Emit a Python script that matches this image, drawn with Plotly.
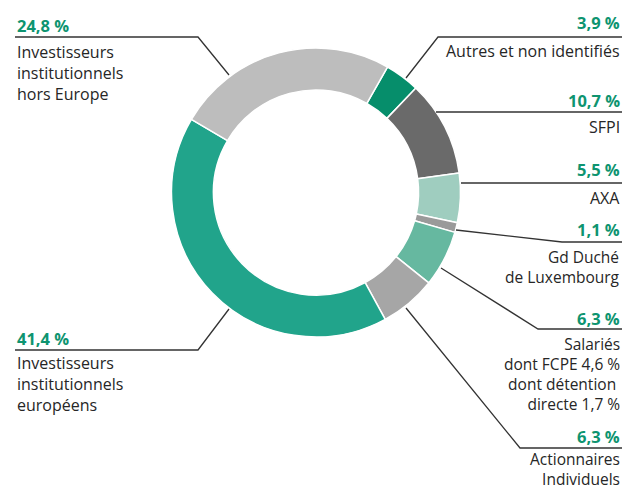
import plotly.graph_objects as go

# Data (clockwise order starting at the "Autres" slice)
categories = ["Autres et non identifiés", "SFPI", "AXA", "Gd Duché de Luxembourg",
              "Salariés", "Actionnaires Individuels",
              "Investisseurs institutionnels européens",
              "Investisseurs institutionnels hors Europe"]
values = [3.9, 10.7, 5.5, 1.1, 6.3, 6.3, 41.4, 24.8]
pct_labels = ["3,9 %", "10,7 %", "5,5 %", "1,1 %", "6,3 %", "6,3 %", "41,4 %", "24,8 %"]
label_lines = [
    ["Autres et non identifiés"],
    ["SFPI"],
    ["AXA"],
    ["Gd Duché", "de Luxembourg"],
    ["Salariés", "dont FCPE 4,6 %", "dont détention\u00a0", "directe 1,7 %"],
    ["Actionnaires", "Individuels"],
    ["Investisseurs", "institutionnels", "européens"],
    ["Investisseurs", "institutionnels", "hors Europe"],
]
colors = ["#068E6B", "#6A6A6A", "#9FCDBF", "#9A9A9A", "#66B8A0", "#A6A6A6", "#21A48B", "#BDBDBD"]

W, H = 625, 489
GREEN = "#0E9470"
TXT = "#262626"
LINE = "#333333"
FONT = "Open Sans"


def px(x):
    return x / W


def py(y):
    return 1 - y / H


cx, cy, R = 316, 192.5, 144.5

fig = go.Figure(go.Pie(
    labels=categories, values=values, sort=False, direction="clockwise",
    rotation=29.7, hole=0.71, textinfo="none", hoverinfo="label+value",
    marker=dict(colors=colors, line=dict(color="white", width=1.5)),
    domain=dict(x=[px(cx - R), px(cx + R)], y=[py(cy + R), py(cy - R)]),
    showlegend=False,
))

# label layout: (side, x anchor, pct center y, label block center y, font size, leader polyline)
layout_spec = [
    ("r", 622, 22, 51, 16, [(406, 78), (438, 37), (622, 37)]),
    ("r", 622, 100, 127, 16, [(436, 112), (622, 112)]),
    ("r", 622, 170, 198, 16, [(461, 183), (622, 183)]),
    ("r", 622, 229, 266.5, 15.5, [(456, 230), (562, 242), (622, 242)]),
    ("r", 622, 318, 373.5, 15.5, [(441, 268), (538, 329), (622, 329)]),
    ("r", 622, 436, 468.5, 15.5, [(406, 308), (520, 448), (622, 448)]),
    ("l", 15, 338, 384, 16, [(229, 309), (198, 350), (15, 350)]),
    ("l", 15, 25, 73, 16, [(229, 75), (198, 37), (15, 37)]),
]

shapes = []
annotations = []
for i, (side, ax, pcy, ly, fs, pts) in enumerate(layout_spec):
    anchor = "right" if side == "r" else "left"
    annotations.append(dict(
        x=px(ax), y=py(pcy), xref="paper", yref="paper", text="<b>" + pct_labels[i] + "</b>",
        showarrow=False, xanchor=anchor, yanchor="middle",
        font=dict(family=FONT, size=16.5, color=GREEN)))
    annotations.append(dict(
        x=px(ax), y=py(ly), xref="paper", yref="paper", text="<br>".join(label_lines[i]),
        showarrow=False, xanchor=anchor, yanchor="middle", align=anchor,
        font=dict(family=FONT, size=fs, color=TXT, weight=500)))
    path = "M " + " L ".join(f"{px(x)},{py(y)}" for x, y in pts)
    shapes.append(dict(type="path", xref="paper", yref="paper", path=path,
                       line=dict(color=LINE, width=1.3)))

fig.update_layout(
    width=W, height=H, margin=dict(l=0, r=0, t=0, b=0),
    paper_bgcolor="white", plot_bgcolor="white",
    shapes=shapes, annotations=annotations,
)

fig.write_html("out.html", config={"displayModeBar": False},
               post_script="document.body.style.margin='0';document.body.style.overflow='hidden';")
